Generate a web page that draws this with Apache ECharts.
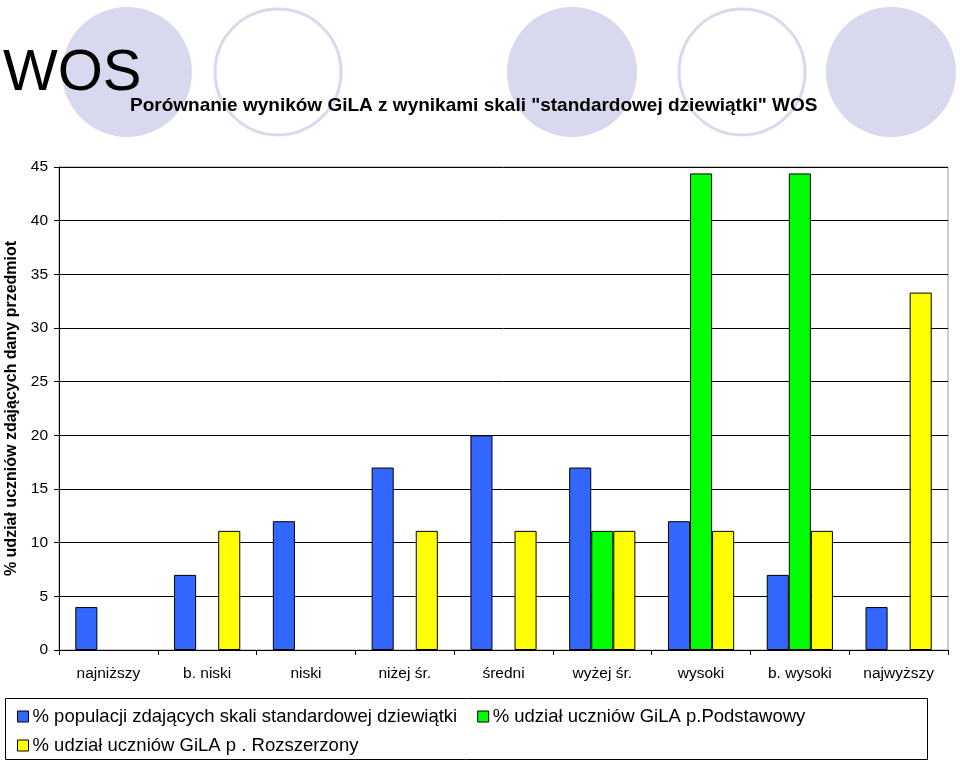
<!DOCTYPE html>
<html><head><meta charset="utf-8">
<script src="https://cdn.jsdelivr.net/npm/echarts@6/dist/echarts.min.js"></script>
<style>html,body{margin:0;padding:0;background:#fff}#c{width:960px;height:761px}</style>
</head><body><div id="c"></div>
<script>
const categories = ['najniższy','b. niski','niski','niżej śr.','średni','wyżej śr.','wysoki','b. wysoki','najwyższy'];
const seriesNames = ['% populacji zdających skali standardowej dziewiątki','% udział uczniów GiLA p.Podstawowy','% udział uczniów GiLA p . Rozszerzony'];
const populacja = [4, 7, 12, 17, 20, 17, 12, 7, 4];
const podstawowy = [null, null, null, null, null, 11.1, 44.4, 44.4, null];
const rozszerzony = [null, 11.1, null, 11.1, 11.1, 11.1, 11.1, 11.1, 33.3];
const yTicks = {min: 0, max: 45, interval: 5};

const FONT = '"Liberation Sans", Arial, sans-serif';
const chart = echarts.init(document.getElementById('c'), null, {renderer: 'canvas'});
const circleFill = '#d8d8ee';
function circ(cx, filled) {
  return filled
    ? {type: 'circle', shape: {cx: cx, cy: 72, r: 65}, style: {fill: circleFill}, z: -10, silent: true}
    : {type: 'circle', shape: {cx: cx, cy: 72, r: 63}, style: {fill: '#fff', stroke: circleFill, lineWidth: 3}, z: -10, silent: true};
}
const colors = ['#3366FF', '#00FF00', '#FFFF00'];
function bar(name, data, color) {
  return {name: name, type: 'bar', data: data, barGap: '0%', barCategoryGap: '33%',
    itemStyle: {color: color, borderColor: '#000', borderWidth: 1}, emphasis: {disabled: true}};
}
const legendText = {fontSize: 18.5, color: '#000', fontFamily: FONT, padding: [0, 0, 0, -1]};
chart.setOption({
  animation: false,
  textStyle: {fontFamily: FONT},
  graphic: [
    circ(127, true), circ(278, false), circ(572, true), circ(742, false), circ(891, true),
    {type: 'text', left: 3, top: 45, z: 5, style: {text: 'WOS', fontSize: 58, fontFamily: FONT, fill: '#000'}},
    {type: 'text', left: 130, top: 96, z: 5, style: {text: 'Porównanie wyników GiLA z wynikami skali "standardowej dziewiątki" WOS', fontSize: 19, fontWeight: 'bold', fontFamily: FONT, fill: '#000'}},
    {type: 'rect', shape: {x: 5.5, y: 698.5, width: 922, height: 61}, style: {fill: 'none', stroke: '#000', lineWidth: 1}, z: 1}
  ],
  legend: [
    {data: [seriesNames[0], seriesNames[1]], left: 12, top: 702, itemWidth: 11, itemHeight: 11, itemGap: 20,
      icon: 'rect', itemStyle: {borderColor: '#000', borderWidth: 1}, textStyle: legendText},
    {data: [seriesNames[2]], left: 12, top: 731, itemWidth: 11, itemHeight: 11,
      icon: 'rect', itemStyle: {borderColor: '#000', borderWidth: 1}, textStyle: legendText}
  ],
  grid: {left: 59, right: 12, top: 167, bottom: 111, show: true, borderColor: '#999', borderWidth: 1, outerBoundsMode: 'none', containLabel: false},
  xAxis: {type: 'category', data: categories,
    axisLine: {lineStyle: {color: '#000', width: 1}},
    axisTick: {show: true, length: 5, lineStyle: {color: '#000'}},
    axisLabel: {fontSize: 15.5, color: '#000', margin: 16, fontFamily: FONT}},
  yAxis: {type: 'value', min: yTicks.min, max: yTicks.max, interval: yTicks.interval,
    name: '% udział uczniów zdających dany przedmiot', nameLocation: 'middle', nameGap: 35, nameRotate: 90,
    nameTextStyle: {fontSize: 16, fontWeight: 'bold', color: '#000', fontFamily: FONT},
    axisLine: {show: true, lineStyle: {color: '#000', width: 1}},
    axisTick: {show: true, length: 5, lineStyle: {color: '#000'}},
    axisLabel: {fontSize: 15.5, color: '#000', margin: 11, fontFamily: FONT},
    splitLine: {lineStyle: {color: '#000', width: 1}}},
  series: [bar(seriesNames[0], populacja, colors[0]), bar(seriesNames[1], podstawowy, colors[1]), bar(seriesNames[2], rozszerzony, colors[2])]
});
</script></body></html>
